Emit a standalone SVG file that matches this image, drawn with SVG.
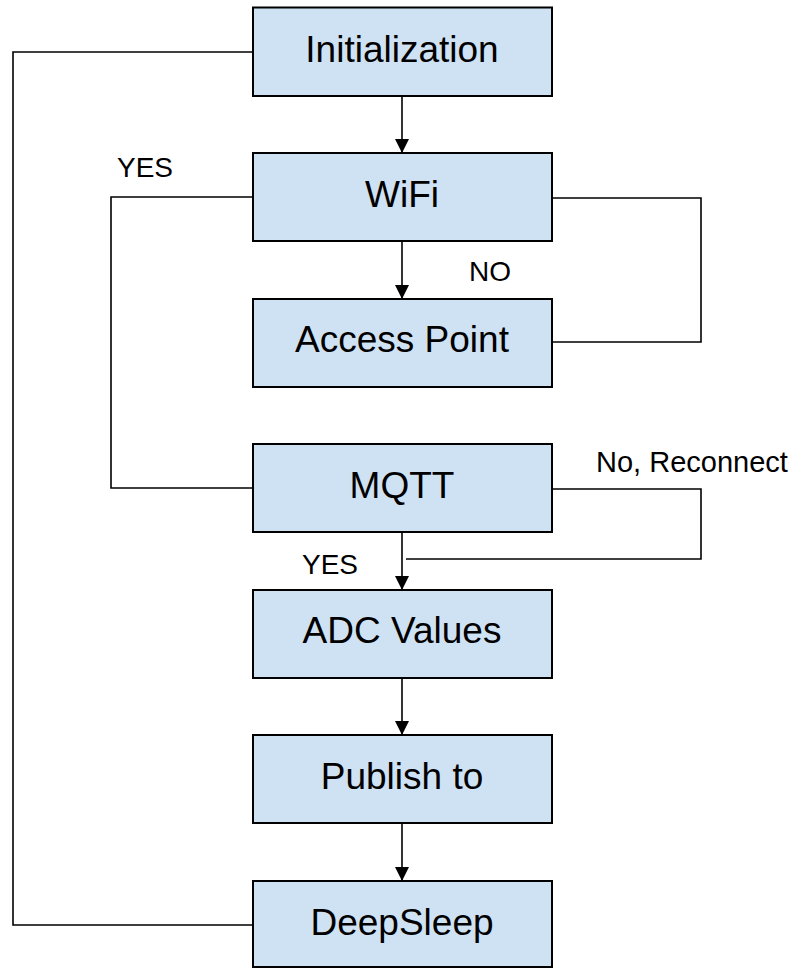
<svg xmlns="http://www.w3.org/2000/svg" width="792" height="968" viewBox="0 0 792 968">
  <style>
    .box { fill: #cfe2f3; stroke: #000; stroke-width: 2; }
    .label { font-family: "Liberation Sans", Arial, sans-serif; font-size: 37px; fill: #000; text-anchor: middle; }
    .note { font-family: "Liberation Sans", Arial, sans-serif; font-size: 28px; fill: #000; }
    .wire { fill: none; stroke: #000; stroke-width: 1.6; }
  </style>
  <defs>
    <marker id="arrow" markerUnits="userSpaceOnUse" markerWidth="14" markerHeight="15" refX="14" refY="7" orient="auto">
      <path d="M0,0 L14,7 L0,14 Z" fill="#000"/>
    </marker>
  </defs>
  <rect width="792" height="968" fill="#fff"/>

  <!-- connectors -->
  <g id="connectors">
    <path class="wire" d="M402,96 V153" marker-end="url(#arrow)"/>
    <path class="wire" d="M402,241 V299" marker-end="url(#arrow)"/>
    <path class="wire" d="M402,532 V590" marker-end="url(#arrow)"/>
    <path class="wire" d="M402,678 V735" marker-end="url(#arrow)"/>
    <path class="wire" d="M402,823 V881" marker-end="url(#arrow)"/>
    <!-- DeepSleep back to Initialization -->
    <path class="wire" d="M253,925 H13 V52 H253"/>
    <!-- WiFi connected: go to MQTT -->
    <path class="wire" d="M253,197 H111 V488 H253"/>
    <!-- Access Point loop back to WiFi -->
    <path class="wire" d="M552,342 H701 V198 H552"/>
    <!-- MQTT reconnect -->
    <path class="wire" d="M552,489 H701 V559 H406"/>
  </g>

  <g id="initialization">
    <rect class="box" x="253" y="7.5" width="299" height="88.5"/>
    <text class="label" x="402" y="61.5">Initialization</text>
  </g>
  <g id="wifi">
    <rect class="box" x="253" y="153" width="299" height="88"/>
    <text class="label" x="402" y="206.5">WiFi</text>
  </g>
  <g id="access-point">
    <rect class="box" x="253" y="299" width="299" height="88"/>
    <text class="label" x="402" y="352">Access Point</text>
  </g>
  <g id="mqtt">
    <rect class="box" x="253" y="444" width="299" height="88"/>
    <text class="label" x="402" y="497.5">MQTT</text>
  </g>
  <g id="adc-values">
    <rect class="box" x="253" y="590" width="299" height="88"/>
    <text class="label" x="402" y="643">ADC Values</text>
  </g>
  <g id="publish">
    <rect class="box" x="253" y="735" width="299" height="88"/>
    <text class="label" x="402" y="788.5">Publish to</text>
  </g>
  <g id="deepsleep">
    <rect class="box" x="253" y="881" width="299" height="86"/>
    <text class="label" x="402" y="934.5">DeepSleep</text>
  </g>

  <g id="labels">
    <text class="note" x="117" y="176.5">YES</text>
    <text class="note" x="469" y="281">NO</text>
    <text class="note" x="596" y="471.5" style="font-size:29px">No, Reconnect</text>
    <text class="note" x="302" y="573.5">YES</text>
  </g>
</svg>
